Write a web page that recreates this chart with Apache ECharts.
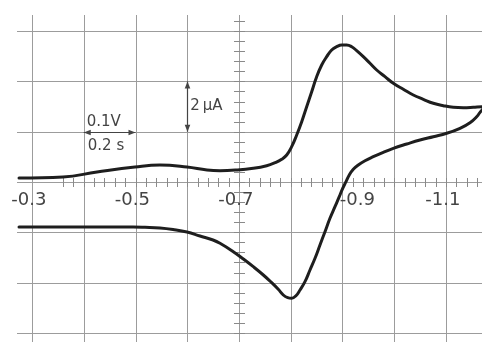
<!DOCTYPE html>
<html>
<head>
<meta charset="utf-8">
<script src="https://cdn.jsdelivr.net/npm/echarts@6/dist/echarts.min.js"></script>
<style>
  html, body { margin: 0; padding: 0; background: #ffffff; }
  #chart { width: 482px; height: 342px; }
</style>
</head>
<body>
<div id="chart"></div>
<script>
// Potential axis (V vs. reference), drawn reversed: more negative to the right
const potentialLabels = ['-0.3', '-0.5', '-0.7', '-0.9', '-1.1'];
const potentialGrid = [-0.3, -0.4, -0.5, -0.6, -0.7, -0.8, -0.9, -1.0, -1.1];
// Current axis (µA), cathodic current upwards
const currentGrid = [-6, -4, -2, 0, 2, 4, 6];

// Forward (cathodic) sweep: [E / V, i / µA]
const forwardScan = [
  [-0.2749, 0.159], [-0.3599, 0.199], [-0.4256, 0.398], [-0.4990, 0.596],
  [-0.5473, 0.676], [-0.5995, 0.596], [-0.6382, 0.477], [-0.6633, 0.449],
  [-0.6956, 0.477], [-0.7276, 0.545], [-0.7535, 0.648], [-0.7696, 0.767],
  [-0.7825, 0.903], [-0.7922, 1.074], [-0.8018, 1.404], [-0.8115, 1.869],
  [-0.8212, 2.398], [-0.8308, 2.994], [-0.8405, 3.590], [-0.8501, 4.187],
  [-0.8598, 4.652], [-0.8695, 4.982], [-0.8791, 5.249], [-0.8888, 5.380],
  [-0.8985, 5.447], [-0.9081, 5.447], [-0.9178, 5.380], [-0.9274, 5.221],
  [-0.9402, 4.982], [-0.9531, 4.720], [-0.9661, 4.453], [-0.9821, 4.187],
  [-0.9982, 3.924], [-1.0175, 3.686], [-1.0368, 3.459], [-1.0561, 3.288],
  [-1.0755, 3.129], [-1.0948, 3.034], [-1.1141, 2.970], [-1.1334, 2.954],
  [-1.1528, 2.970], [-1.1696, 2.994], [-1.1773, 2.942]
];
// Reverse (anodic) sweep back to the starting potential
const reverseScan = [
  [-1.1696, 2.863], [-1.1593, 2.596], [-1.1464, 2.358], [-1.1271, 2.135],
  [-1.1014, 1.936], [-1.0755, 1.801], [-1.0498, 1.670], [-1.0241, 1.511],
  [-0.9982, 1.340], [-0.9788, 1.181], [-0.9595, 1.006], [-0.9435, 0.847],
  [-0.9305, 0.676], [-0.9209, 0.505], [-0.9131, 0.278], [-0.9068, 0.012],
  [-0.9004, -0.250], [-0.8938, -0.584], [-0.8855, -0.982], [-0.8758, -1.443],
  [-0.8662, -1.976], [-0.8565, -2.505], [-0.8469, -3.034], [-0.8372, -3.499],
  [-0.8275, -3.964], [-0.8179, -4.294], [-0.8101, -4.521], [-0.8018, -4.624],
  [-0.7941, -4.600], [-0.7856, -4.493], [-0.7759, -4.266], [-0.7632, -4.004],
  [-0.7470, -3.698], [-0.7276, -3.368], [-0.7083, -3.062], [-0.6890, -2.771],
  [-0.6633, -2.437], [-0.6498, -2.306], [-0.6246, -2.147], [-0.5995, -1.988],
  [-0.5725, -1.889], [-0.5473, -1.829], [-0.5184, -1.801], [-0.4952, -1.789],
  [-0.4314, -1.789], [-0.3541, -1.789], [-0.2749, -1.789]
];

// Scale bars: 0.1 V (0.2 s) horizontally, 2 µA vertically
const scaleVoltage = [-0.4, -0.5];   // at i = 2 µA
const scaleCurrent = [2, 4];         // at E = -0.6 V
const scaleTexts = ['0.1V', '0.2 s', '2\u2009\u00b5A'];

const GRID_COLOR = '#9c9c9c';
const TICK_COLOR = '#8a8a8a';
const INK = '#444444';
const FONT = '"DejaVu Sans", "Liberation Sans", sans-serif';

// Minor ticks along both axes: 0.02 V and 0.4 µA
const xMinorTicks = [];
for (let k = 18; k <= 58; k++) xMinorTicks.push([-k / 50]);
const yMinorTicks = [];
for (let k = -16; k <= 16; k++) yMinorTicks.push([k * 0.4]);

const chart = echarts.init(document.getElementById('chart'), null, { renderer: 'canvas' });

const crisp = v => Math.round(v) + 0.5;

function renderVGrid(params, api) {
  const cs = params.coordSys;
  const x = crisp(api.coord([api.value(0), 0])[0]);
  return { type: 'line', shape: { x1: x, y1: cs.y, x2: x, y2: cs.y + cs.height },
           style: { stroke: GRID_COLOR, lineWidth: 1 } };
}
function renderHGrid(params, api) {
  const cs = params.coordSys;
  const y = crisp(api.coord([-0.7, api.value(0)])[1]);
  return { type: 'line', shape: { x1: cs.x, y1: y, x2: cs.x + cs.width, y2: y },
           style: { stroke: GRID_COLOR, lineWidth: 1 } };
}
function renderXTick(params, api) {
  const p = api.coord([api.value(0), 0]);
  const x = crisp(p[0]);
  return { type: 'line', shape: { x1: x, y1: p[1] - 4, x2: x, y2: p[1] + 5 },
           style: { stroke: TICK_COLOR, lineWidth: 1 } };
}
function renderYTick(params, api) {
  const p = api.coord([-0.7, api.value(0)]);
  const y = crisp(p[1]);
  return { type: 'line', shape: { x1: p[0] - 5, y1: y, x2: p[0] + 6, y2: y },
           style: { stroke: TICK_COLOR, lineWidth: 1 } };
}

// Axis numbers are set with the decimal point on their grid line
const labelShift = { '-0.9': 18 };
function renderXLabel(params, api) {
  const txt = potentialLabels[params.dataIndex];
  const p = api.coord([api.value(0), 0]);
  const x = p[0] - 2.8 + (labelShift[txt] || 0);
  const y = p[1] + 18;
  const dot = txt.indexOf('.');
  const common = { fill: INK, fontSize: 18, fontFamily: FONT, fontWeight: 'normal', verticalAlign: 'middle' };
  return { type: 'group', children: [
    { type: 'text', x: x, y: y, style: Object.assign({ text: txt.slice(0, dot), align: 'right' }, common) },
    { type: 'text', x: x, y: y, style: Object.assign({ text: txt.slice(dot), align: 'left' }, common) }
  ] };
}

function arrowHead(tip, dir) {
  const len = 7, half = 2.8;
  const bx = tip[0] - dir[0] * len, by = tip[1] - dir[1] * len;
  const nx = -dir[1], ny = dir[0];
  return { type: 'polygon', shape: { points: [tip, [bx + nx * half, by + ny * half], [bx - nx * half, by - ny * half]] },
           style: { fill: INK } };
}
function renderArrow(params, api) {
  const a = api.coord([api.value(0), api.value(1)]);
  const b = api.coord([api.value(2), api.value(3)]);
  if (a[0] === b[0]) { a[0] = b[0] = crisp(a[0]); } else { a[1] = b[1] = crisp(a[1]); }
  const L = Math.hypot(b[0] - a[0], b[1] - a[1]);
  const d = [(b[0] - a[0]) / L, (b[1] - a[1]) / L];
  return { type: 'group', children: [
    { type: 'line', shape: { x1: a[0], y1: a[1], x2: b[0], y2: b[1] }, style: { stroke: INK, lineWidth: 1.2 } },
    arrowHead(b, d),
    arrowHead(a, [-d[0], -d[1]])
  ] };
}
function renderScaleText(params, api) {
  const i = params.dataIndex;
  const p = api.coord([api.value(0), api.value(1)]);
  const offsets = [[3, -10], [4, 14], [3, 0]];
  return { type: 'text', x: p[0] + offsets[i][0], y: p[1] + offsets[i][1],
           style: { text: scaleTexts[i], fill: INK, fontSize: 15, fontFamily: FONT, fontWeight: 'normal',
                    align: 'left', verticalAlign: 'middle' } };
}

const option = {
  backgroundColor: '#ffffff',
  animation: false,
  grid: { left: 17, right: 0, top: 15, bottom: 0, containLabel: false },
  xAxis: { type: 'value', inverse: true, min: -1.1696, max: -0.2710, show: false },
  yAxis: { type: 'value', min: -6.362, max: 6.640, show: false },
  series: [
    { type: 'custom', silent: true, z: 1, renderItem: renderVGrid, data: potentialGrid.map(v => [v]) },
    { type: 'custom', silent: true, z: 1, renderItem: renderHGrid, data: currentGrid.map(v => [v]) },
    { type: 'custom', silent: true, z: 2, renderItem: renderXTick, data: xMinorTicks },
    { type: 'custom', silent: true, z: 2, renderItem: renderYTick, data: yMinorTicks },
    { type: 'custom', silent: true, z: 3, renderItem: renderXLabel,
      data: potentialLabels.map(s => [parseFloat(s)]) },
    { type: 'custom', silent: true, z: 3, renderItem: renderArrow,
      data: [[scaleVoltage[0], scaleCurrent[0], scaleVoltage[1], scaleCurrent[0]],
             [-0.6, scaleCurrent[0], -0.6, scaleCurrent[1]]] },
    { type: 'custom', silent: true, z: 3, renderItem: renderScaleText,
      data: [[scaleVoltage[0], scaleCurrent[0]], [scaleVoltage[0], scaleCurrent[0]],
             [-0.6, (scaleCurrent[0] + scaleCurrent[1]) / 2]] },
    { type: 'line', z: 10, silent: true, clip: true, smooth: 0.45,
      symbol: 'none', showSymbol: false,
      lineStyle: { color: '#1e1e1e', width: 3, join: 'round', cap: 'round' },
      data: forwardScan.concat(reverseScan) }
  ]
};
chart.setOption(option);
</script>
</body>
</html>
